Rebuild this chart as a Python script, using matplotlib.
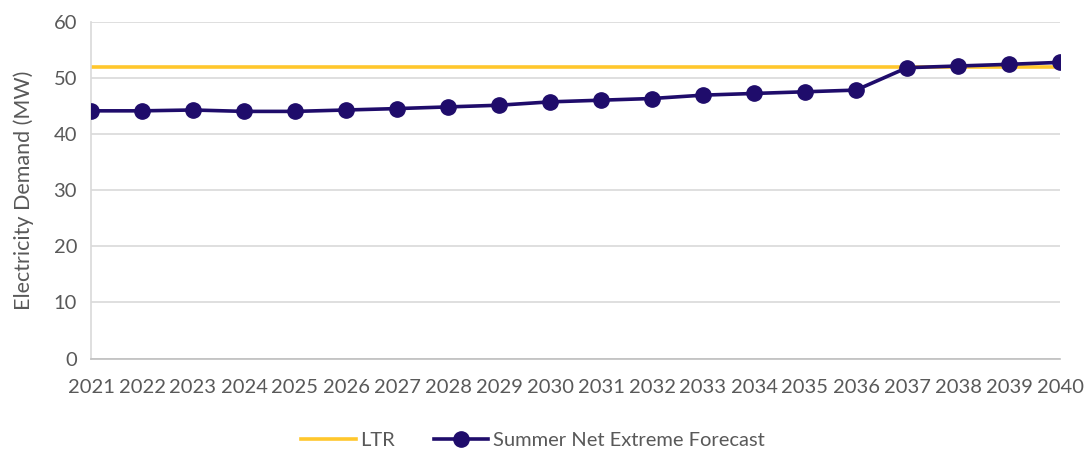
import matplotlib
matplotlib.use("Agg")
import matplotlib.pyplot as plt

years = list(range(2021, 2041))
ltr = [52.0] * len(years)
forecast = [44.2, 44.2, 44.35, 44.1, 44.1, 44.35, 44.6, 44.9, 45.2, 45.8,
            46.1, 46.4, 47.0, 47.3, 47.6, 47.9, 51.9, 52.2, 52.5, 52.85]
yticks = [0, 10, 20, 30, 40, 50, 60]

plt.rcParams['font.family'] = ['Lato', 'DejaVu Sans']
txt = '#595959'

fig = plt.figure(figsize=(10.85, 4.53), dpi=100)
ax = fig.add_axes([91/1085, 1-358.5/453, (1060-91)/1085, (358.5-22.3)/453])

ax.plot(years, ltr, color='#FFC72C', lw=2.6, label='LTR', zorder=2)
ax.plot(years, forecast, color='#1F0C6B', lw=2.6, marker='o', markersize=11,
        label='Summer Net Extreme Forecast', zorder=3)

ax.set_xlim(2021, 2040)
ax.set_ylim(0, 60)
ax.set_yticks(yticks)
ax.set_xticks(years)
ax.set_xticklabels([str(y) for y in years])
ax.grid(axis='y', color='#D9D9D9', lw=1.2)
ax.set_axisbelow(True)
for s in ['top', 'right']:
    ax.spines[s].set_visible(False)
ax.spines['left'].set_color('#D9D9D9')
ax.spines['left'].set_linewidth(1.2)
ax.spines['bottom'].set_color('#BFBFBF')
ax.spines['bottom'].set_linewidth(1.2)
ax.tick_params(axis='both', length=0, labelsize=14.5, colors=txt)
ax.tick_params(axis='x', pad=15)
ax.tick_params(axis='y', pad=10)
ax.set_ylabel('Electricity Demand (MW)', fontsize=15.5, color=txt, labelpad=14)

leg = fig.legend(loc='center', bbox_to_anchor=(533/1085, 1-440/453), ncol=2,
                 frameon=False, fontsize=14.5, handlelength=2.7, columnspacing=1.9,
                 handletextpad=0.25)
for t in leg.get_texts():
    t.set_color(txt)

fig.savefig('out.png', dpi=100)
